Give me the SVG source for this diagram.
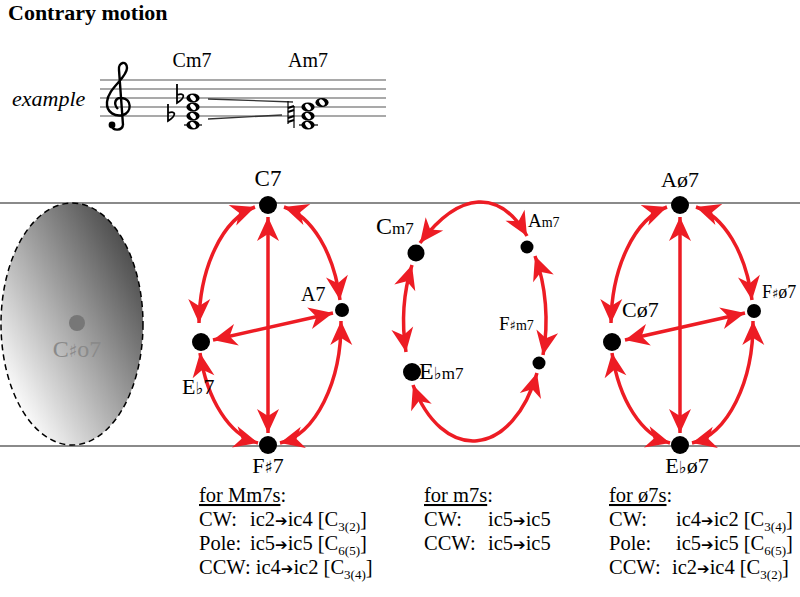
<svg xmlns="http://www.w3.org/2000/svg" width="800" height="597" viewBox="0 0 800 597">
<defs>
<style>
.s{font-family:"Liberation Serif","DejaVu Serif",serif;fill:#000}
.acc{font-family:"DejaVu Sans",sans-serif}
.arr{font-family:"DejaVu Sans",sans-serif;font-size:15px}
.t{font-family:"Liberation Serif","DejaVu Serif",serif;font-size:20.5px;fill:#000}
.sub{font-size:13px}
.edge{fill:none;stroke:#ed1c24;stroke-width:3.5;marker-start:url(#ah);marker-end:url(#ah)}
.staff{stroke:#555;stroke-width:1.2}
.gl{stroke:#8a8a8a;stroke-width:2}
</style>
<marker id="ah" viewBox="-26 -12 28 24" refX="0" refY="0" markerWidth="28" markerHeight="24" markerUnits="userSpaceOnUse" orient="auto-start-reverse">
<path d="M0,0 L-24,-11 L-17,0 L-24,11 Z" fill="#ed1c24"/>
</marker>
<linearGradient id="gr" x1="0.95" y1="0.05" x2="0.1" y2="0.85">
<stop offset="0" stop-color="#383838"/>
<stop offset="1" stop-color="#ffffff"/>
</linearGradient>
<g id="wn"><ellipse rx="6.6" ry="4.6" fill="#000"/><ellipse rx="2.2" ry="3.5" transform="rotate(-40)" fill="#fff"/></g>
</defs>

<rect width="800" height="597" fill="#fff"/>

<text class="s" x="8" y="20" font-size="22" font-weight="bold">Contrary motion</text>

<g id="example">
<text class="s" x="12" y="106" font-size="22" font-style="italic">example</text>
<g class="staff">
<line x1="100" y1="80" x2="386" y2="80"/>
<line x1="100" y1="89" x2="386" y2="89"/>
<line x1="100" y1="98" x2="386" y2="98"/>
<line x1="100" y1="107" x2="386" y2="107"/>
<line x1="100" y1="116" x2="386" y2="116"/>
</g>
<path d="M123 125 C122 131 113 131 112 126 M123 125 L119 70 C118 62 127 60 127 68 C127 78 108 88 107 102 C106 113 116 117 123 115 C132 112 132 99 122 98 C115 97 113 104 118 109" fill="none" stroke="#000" stroke-width="2.4"/>
<circle cx="112" cy="125" r="3.4"/>
<text class="s" x="192" y="67" font-size="20" text-anchor="middle">Cm7</text>
<text class="s" x="308" y="67" font-size="20" text-anchor="middle">Am7</text>
<line x1="184" y1="125" x2="202" y2="125" stroke="#000" stroke-width="1.2"/>
<use href="#wn" x="193" y="125"/>
<use href="#wn" x="193" y="116"/>
<use href="#wn" x="193" y="107"/>
<use href="#wn" x="193" y="98"/>
<path d="M177 84 V103 C185 98 186 92 177 95 M168 104 V121 C176 116 177 110 168 113" fill="none" stroke="#000" stroke-width="1.8"/>
<line x1="208" y1="99" x2="293" y2="102" stroke="#333" stroke-width="1.3"/>
<line x1="208" y1="119" x2="282" y2="115" stroke="#333" stroke-width="1.3"/>
<path d="M288 101 V115 M294 106 V120 M288 111 V124 M294 114 V128" stroke="#000" stroke-width="1.2"/>
<path d="M288 108 L294 106 M288 112 L294 110 M288 118 L294 116 M288 122 L294 120" stroke="#000" stroke-width="2"/>
<line x1="299" y1="125" x2="318" y2="125" stroke="#000" stroke-width="1.2"/>
<use href="#wn" x="308" y="125"/>
<use href="#wn" x="308" y="116"/>
<use href="#wn" x="308" y="107"/>
<use href="#wn" x="322" y="102.5"/>
</g>

<g id="guides">
<line class="gl" x1="0" y1="203" x2="800" y2="203"/>
<line class="gl" x1="0" y1="446" x2="800" y2="446"/>
</g>

<g id="node-Csharp-o7">
<ellipse cx="72" cy="324" rx="71" ry="121" fill="url(#gr)" stroke="#000" stroke-width="1.5" stroke-dasharray="6 4"/>
<circle cx="77" cy="323" r="8" fill="#777"/>
<text class="s" x="77" y="357" font-size="24" text-anchor="middle" style="fill:#8a8a8a">C<tspan class="acc" font-size="18">♯</tspan>o7</text>
</g>

<g id="connectors">
<path class="edge" d="M255 207 A71 121 0 0 0 199 323"/>
<path class="edge" d="M284 207 A71 121 0 0 1 340 300"/>
<path class="edge" d="M200 353 A71 121 0 0 0 258 443"/>
<path class="edge" d="M341 321 A71 121 0 0 1 280 443"/>
<path class="edge" d="M268 217 L268 433"/>
<path class="edge" d="M213 340 L333 313"/>

<path class="edge" d="M420 243 C460 190 500 189 527 236"/>
<path class="edge" d="M412 265 A71 120 0 0 0 406 352"/>
<path class="edge" d="M535 256 A71 120 0 0 1 543 355"/>
<path class="edge" d="M413 385 A71 120 0 0 0 537 373"/>

<path class="edge" d="M667 207 A71 121 0 0 0 611 323"/>
<path class="edge" d="M696 207 A71 121 0 0 1 752 300"/>
<path class="edge" d="M612 353 A71 121 0 0 0 670 443"/>
<path class="edge" d="M753 321 A71 121 0 0 1 692 443"/>
<path class="edge" d="M680 217 L680 433"/>
<path class="edge" d="M625 340 L745 313"/>
</g>

<g id="node-C7"><circle cx="268" cy="205" r="9"/><text class="s" x="268" y="186" font-size="23" text-anchor="middle">C7</text></g>
<g id="node-A7"><circle cx="342" cy="310" r="7"/><text class="s" x="301" y="301" font-size="20">A7</text></g>
<g id="node-Eb7"><circle cx="201" cy="342" r="9"/><text class="s" x="182" y="394" font-size="22">E<tspan class="acc" font-size="17">♭</tspan>7</text></g>
<g id="node-Fs7"><circle cx="268" cy="445" r="9"/><text class="s" x="268" y="473" font-size="22" text-anchor="middle">F<tspan class="acc" font-size="17">♯</tspan>7</text></g>

<g id="node-Cm7"><circle cx="416" cy="253" r="8.5"/><text class="s" x="376" y="234" font-size="24">C<tspan font-size="17">m7</tspan></text></g>
<g id="node-Am7"><circle cx="527" cy="247" r="6.5"/><text class="s" x="528" y="227" font-size="19">A<tspan font-size="14">m7</tspan></text></g>
<g id="node-Fsm7"><circle cx="539" cy="363" r="6.5"/><text class="s" x="499" y="330" font-size="19">F<tspan class="acc" font-size="13">♯</tspan><tspan font-size="14">m7</tspan></text></g>
<g id="node-Ebm7"><circle cx="412" cy="372" r="9"/><text class="s" x="419" y="379" font-size="24">E<tspan class="acc" font-size="17">♭</tspan><tspan font-size="17">m7</tspan></text></g>

<g id="node-Ah7"><circle cx="680" cy="205" r="9"/><text class="s" x="680" y="187" font-size="22" text-anchor="middle">Aø7</text></g>
<g id="node-Fsh7"><circle cx="754" cy="311" r="7"/><text class="s" x="762" y="298" font-size="18">F<tspan class="acc" font-size="13">♯</tspan>ø7</text></g>
<g id="node-Ch7"><circle cx="612" cy="342" r="9"/><text class="s" x="622" y="317" font-size="22">Cø7</text></g>
<g id="node-Ebh7"><circle cx="680" cy="445" r="9"/><text class="s" x="687" y="473" font-size="22" text-anchor="middle">E<tspan class="acc" font-size="17">♭</tspan>ø7</text></g>

<g id="legend-Mm7">
<text class="t" x="199" y="502"><tspan style="text-decoration:underline">for Mm7s</tspan>:</text>
<text class="t" y="526"><tspan x="199">CW:</tspan><tspan x="250">ic2</tspan><tspan class="arr">➔</tspan>ic4 [C<tspan class="sub" dy="5">3(2)</tspan><tspan dy="-5">]</tspan></text>
<text class="t" y="550"><tspan x="199">Pole:</tspan><tspan x="250">ic5</tspan><tspan class="arr">➔</tspan>ic5 [C<tspan class="sub" dy="5">6(5)</tspan><tspan dy="-5">]</tspan></text>
<text class="t" y="574"><tspan x="199">CCW: ic4</tspan><tspan class="arr">➔</tspan>ic2 [C<tspan class="sub" dy="5">3(4)</tspan><tspan dy="-5">]</tspan></text>
</g>
<g id="legend-m7">
<text class="t" x="424" y="502"><tspan style="text-decoration:underline">for m7s</tspan>:</text>
<text class="t" y="526"><tspan x="424">CW:</tspan><tspan x="488">ic5</tspan><tspan class="arr">➔</tspan>ic5</text>
<text class="t" y="550"><tspan x="424">CCW: </tspan><tspan x="488">ic5</tspan><tspan class="arr">➔</tspan>ic5</text>
</g>
<g id="legend-h7">
<text class="t" x="609" y="502"><tspan style="text-decoration:underline">for ø7s</tspan>:</text>
<text class="t" y="526"><tspan x="609">CW:</tspan><tspan x="676">ic4</tspan><tspan class="arr">➔</tspan>ic2 [C<tspan class="sub" dy="5">3(4)</tspan><tspan dy="-5">]</tspan></text>
<text class="t" y="550"><tspan x="609">Pole:</tspan><tspan x="676">ic5</tspan><tspan class="arr">➔</tspan>ic5 [C<tspan class="sub" dy="5">6(5)</tspan><tspan dy="-5">]</tspan></text>
<text class="t" y="574"><tspan x="609">CCW:</tspan><tspan x="672">ic2</tspan><tspan class="arr">➔</tspan>ic4 [C<tspan class="sub" dy="5">3(2)</tspan><tspan dy="-5">]</tspan></text>
</g>
</svg>
